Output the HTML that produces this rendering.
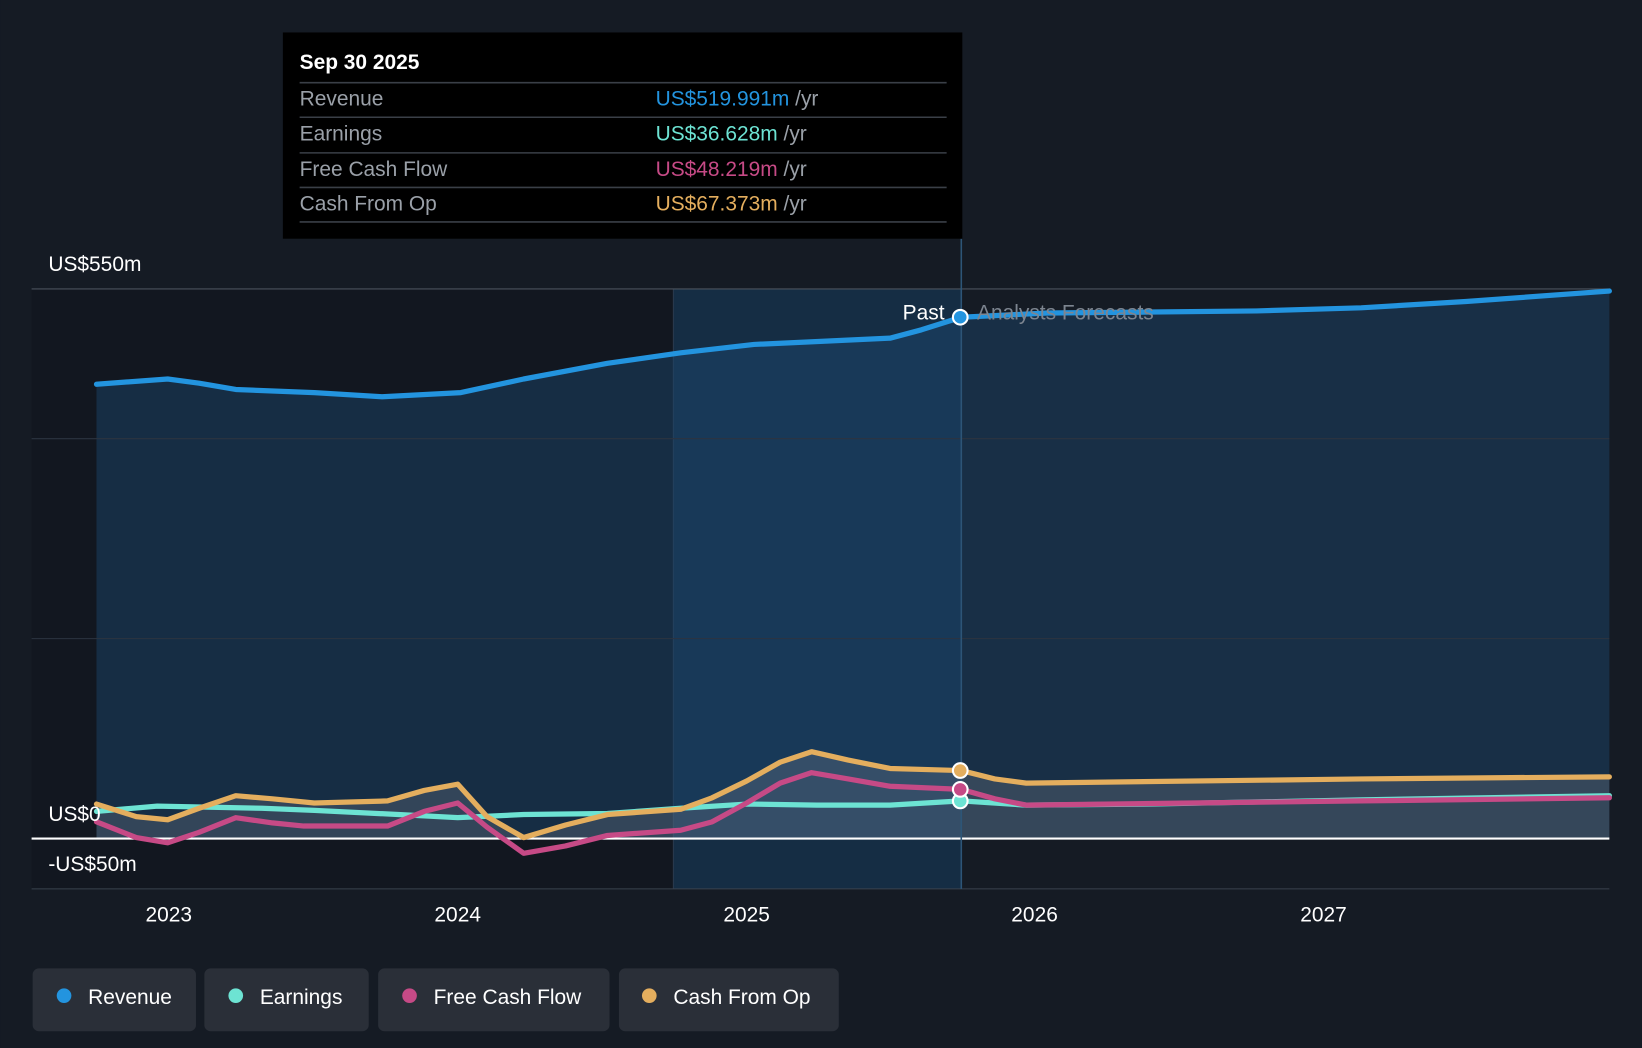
<!DOCTYPE html>
<html><head><meta charset="utf-8"><style>
html,body{margin:0;padding:0;background:#151b24;}
svg{display:block;font-family:"Liberation Sans",sans-serif;}
</style></head><body>
<svg width="1642" height="1048" viewBox="0 0 1568 1001" xmlns="http://www.w3.org/2000/svg">
<rect width="1568" height="1001" fill="#151b24"/>
<rect x="30" y="276" width="613" height="573" fill="#121720"/>
<rect x="643" y="276" width="275" height="573" fill="#15304a" opacity="0.85"/>
<line x1="643" y1="276" x2="643" y2="849" stroke="#2a3a4d" stroke-width="1"/>
<polygon fill="#1d4a70" fill-opacity="0.45" points="92,367 160,362 225,372 300,375 365,379 440,375 500,362 580,347 650,337 720,329 850,323 918,303 1000,299 1100,298 1200,297 1300,294 1400,288 1537,278 1537,801 92,801"/>
<g stroke="#2c3440" stroke-width="1">
<line x1="30" y1="276" x2="1537" y2="276" stroke="#4a525c"/>
<line x1="30" y1="419" x2="1537" y2="419"/>
<line x1="30" y1="610" x2="1537" y2="610"/>
<line x1="30" y1="849" x2="1537" y2="849" stroke="#3a424d"/>
</g>
<polygon fill="#8a8f99" fill-opacity="0.25" points="92,768 130,780 160,783 190,772 225,760 260,763 300,767 370,765 405,755 437,749 465,780 500,800 540,788 580,778 650,773 680,762 713,746 745,728 775,718 810,726 850,734 918,736 950,744 980,748 1300,744 1537,742 1537,801 92,801"/>
<line x1="30" y1="801" x2="1537" y2="801" stroke="#ffffff" stroke-width="2"/>
<g fill="none" stroke-width="5" stroke-linejoin="round" stroke-linecap="round">
<polyline stroke="#6de3d3" points="92,775 150,770 250,772 300,774 380,778 437,781 500,778 580,777 650,772 713,768 780,769 850,769 918,765 980,769 1100,768 1300,764 1537,760"/>
<polyline stroke="#c64a86" points="92,785 130,800 160,805 190,795 225,781 260,786 290,789 370,789 405,775 437,767 465,790 500,815 540,808 580,798 650,793 680,785 713,767 745,748 775,738 810,744 850,751 918,754 950,763 980,769 1300,765 1537,762"/>
<polyline stroke="#e4ae5e" points="92,768 130,780 160,783 190,772 225,760 260,763 300,767 370,765 405,755 437,749 465,780 500,800 540,788 580,778 650,773 680,762 713,746 745,728 775,718 810,726 850,734 918,736 950,744 980,748 1300,744 1537,742"/>
<polyline stroke="#2394df" points="92,367 160,362 190,366 225,372 300,375 365,379 440,375 500,362 580,347 650,337 720,329 850,323 880,315 918,303 1000,299 1100,298 1200,297 1300,294 1400,288 1537,278"/>
</g>
<line x1="918" y1="228" x2="918" y2="849" stroke="#2d5577" stroke-width="1.5"/>
<g stroke="#fff" stroke-width="2">
<circle cx="917" cy="303" r="7" fill="#2394df"/>
<circle cx="917" cy="765" r="7" fill="#6de3d3"/>
<circle cx="917" cy="754" r="7" fill="#c64a86"/>
<circle cx="917" cy="736" r="7" fill="#e4ae5e"/>
</g>
<text x="902" y="305" fill="#fff" font-size="20" text-anchor="end">Past</text>
<text x="933" y="305" fill="#7d8590" font-size="20">Analysts Forecasts</text>
<g fill="#fff" font-size="20">
<text x="46" y="259">US$550m</text>
<text x="46" y="784">US$0</text>
<text x="46" y="832">-US$50m</text>
</g>
<g fill="#fff" font-size="20" text-anchor="middle">
<text x="161" y="880">2023</text><text x="437" y="880">2024</text><text x="713" y="880">2025</text><text x="988" y="880">2026</text><text x="1264" y="880">2027</text>
</g>
<rect x="270" y="31" width="649" height="197" fill="#000"/>
<text x="286" y="66" fill="#fff" font-size="20" font-weight="bold">Sep 30 2025</text>
<g stroke="#3a3f47" stroke-width="1.5">
<line x1="286" y1="79" x2="904" y2="79"/><line x1="286" y1="112" x2="904" y2="112"/><line x1="286" y1="146" x2="904" y2="146"/><line x1="286" y1="179" x2="904" y2="179"/><line x1="286" y1="212" x2="904" y2="212"/>
</g>
<g font-size="20" fill="#9aa0a8">
<text x="286" y="101">Revenue</text><text x="286" y="134">Earnings</text><text x="286" y="168">Free Cash Flow</text><text x="286" y="201">Cash From Op</text>
</g>
<g font-size="20">
<text x="626" y="101"><tspan fill="#2394df">US$519.991m</tspan><tspan fill="#9aa0a8"> /yr</tspan></text>
<text x="626" y="134"><tspan fill="#6de3d3">US$36.628m</tspan><tspan fill="#9aa0a8"> /yr</tspan></text>
<text x="626" y="168"><tspan fill="#c64a86">US$48.219m</tspan><tspan fill="#9aa0a8"> /yr</tspan></text>
<text x="626" y="201"><tspan fill="#e4ae5e">US$67.373m</tspan><tspan fill="#9aa0a8"> /yr</tspan></text>
</g>
<g fill="#2a2f38">
<rect x="31" y="925" width="156" height="60" rx="6"/>
<rect x="195" y="925" width="157" height="60" rx="6"/>
<rect x="361" y="925" width="221" height="60" rx="6"/>
<rect x="591" y="925" width="210" height="60" rx="6"/>
</g>
<circle cx="61" cy="951" r="7" fill="#2394df"/>
<circle cx="225" cy="951" r="7" fill="#6de3d3"/>
<circle cx="391" cy="951" r="7" fill="#c64a86"/>
<circle cx="620" cy="951" r="7" fill="#e4ae5e"/>
<g fill="#fff" font-size="20">
<text x="84" y="959">Revenue</text><text x="248" y="959">Earnings</text><text x="414" y="959">Free Cash Flow</text><text x="643" y="959">Cash From Op</text>
</g>
</svg>
</body></html>
